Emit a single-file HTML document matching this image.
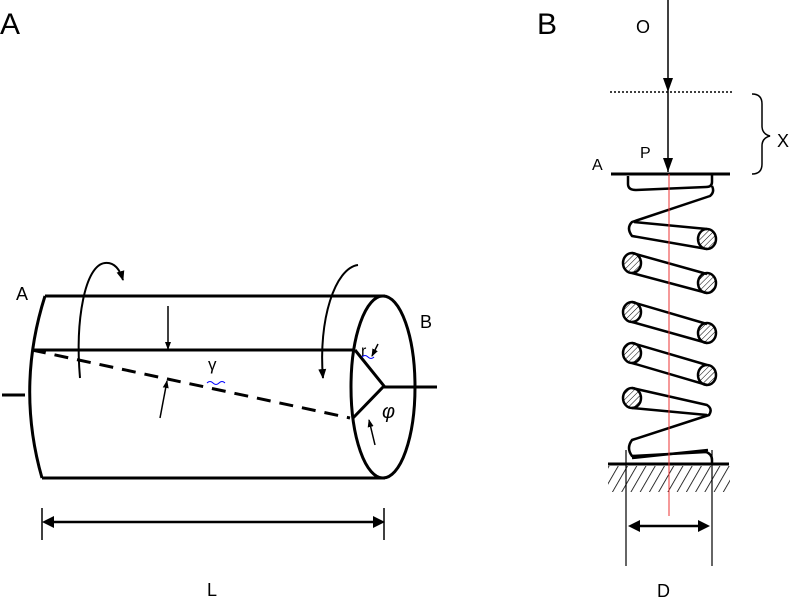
<!DOCTYPE html>
<html><head><style>body{margin:0;background:#fff}svg{display:block}text{font-family:"Liberation Sans",sans-serif}</style></head><body>
<svg width="800" height="600" viewBox="0 0 800 600" xmlns="http://www.w3.org/2000/svg">
<defs>
<marker id="ah" markerWidth="10" markerHeight="10" refX="9" refY="5" orient="auto" markerUnits="userSpaceOnUse"><path d="M0,1 L10,5 L0,9 Z" fill="#000"/></marker>
<marker id="ahs" markerWidth="8" markerHeight="8" refX="7" refY="4" orient="auto" markerUnits="userSpaceOnUse"><path d="M0,1 L8,4 L0,7 Z" fill="#000"/></marker>
<pattern id="hat" width="8" height="8" patternUnits="userSpaceOnUse" patternTransform="rotate(30)"><line x1="0" y1="0" x2="0" y2="8" stroke="#000" stroke-width="1.6"/></pattern>
<pattern id="hat2" width="4" height="4" patternUnits="userSpaceOnUse" patternTransform="rotate(45)"><line x1="0" y1="0" x2="0" y2="4" stroke="#000" stroke-width="1"/></pattern>
</defs>
<text x="0" y="34" font-size="30">A</text>
<text x="537" y="34" font-size="30">B</text>
<!-- cylinder -->
<g stroke="#000" stroke-width="3" fill="none">
<line x1="45" y1="296" x2="385" y2="296"/>
<line x1="42" y1="478" x2="385" y2="478"/>
<path d="M45,296 Q16,387 42,478"/>
<ellipse cx="383" cy="387" rx="32" ry="91"/>
<line x1="32" y1="350" x2="355" y2="350"/>
<line x1="32" y1="350" x2="350" y2="418" stroke-dasharray="14,9"/>
<polyline points="355,350 384,386 353,418"/>
<line x1="384" y1="387" x2="437" y2="387"/>
<line x1="2" y1="395" x2="25" y2="395"/>
</g>
<g stroke="#000" stroke-width="2" fill="none">
<path d="M80,378 C75,320 85,265 105,263 C115,262 120,270 123,280" marker-end="url(#ah)"/>
<path d="M358,265 C335,268 318,320 323,378" marker-end="url(#ah)"/>
<line x1="168" y1="306" x2="168" y2="349" stroke-width="1.5" marker-end="url(#ahs)"/>
<line x1="160" y1="418" x2="167" y2="381" stroke-width="1.5" marker-end="url(#ahs)"/>
<line x1="375" y1="445" x2="369" y2="420" stroke-width="1.5" marker-end="url(#ahs)"/>
<line x1="378" y1="344" x2="372" y2="356" stroke-width="1.5" marker-end="url(#ahs)"/>
<line x1="50" y1="522" x2="378" y2="522" stroke-width="2.5"/>
<line x1="42" y1="508" x2="42" y2="540" stroke-width="1.5"/>
<line x1="384" y1="508" x2="384" y2="540" stroke-width="1.5"/>
</g>
<path d="M385,522 l-12,-6 v12z M42,522 l12,-6 v12z" fill="#000"/>
<text x="16" y="300" font-size="18">A</text>
<text x="420" y="328" font-size="18">B</text>
<text x="361" y="356" font-size="16" font-family="Liberation Serif">r</text>
<text x="208" y="370" font-size="17" font-family="Liberation Serif">γ</text>
<text x="382" y="418" font-size="20" font-style="italic" font-family="Liberation Serif">φ</text>
<text x="207" y="596" font-size="18">L</text>
<path d="M207,383 q3,-3 6,0 t6,0 t6,0 M362,357 q3,-3 6,0 t6,0" stroke="#00f" fill="none"/>
<!-- panel B -->
<text x="636" y="33" font-size="18">O</text>
<text x="640" y="158" font-size="16">P</text>
<text x="592" y="170" font-size="16">A</text>
<text x="777" y="147" font-size="18">X</text>
<text x="657" y="597" font-size="18">D</text>
<g stroke="#000" fill="none">
<line x1="668" y1="0" x2="668" y2="172" stroke-width="1.5"/>
<line x1="610" y1="92" x2="732" y2="92" stroke-width="1.5" stroke-dasharray="2,2"/>
<path d="M752,94 q10,0 10,10 v22 q0,8 8,10 q-8,2 -8,10 v18 q0,10 -10,10" stroke-width="1.5"/>
<line x1="611" y1="174" x2="730" y2="174" stroke-width="3"/>
<line x1="608" y1="464" x2="729" y2="464" stroke-width="3"/>
<line x1="626" y1="450" x2="626" y2="566" stroke-width="1.2"/>
<line x1="712" y1="450" x2="712" y2="566" stroke-width="1.2"/>
<line x1="635" y1="526" x2="703" y2="526" stroke-width="2.5"/>
</g>
<path d="M668,92 l-5,-14 h10z M668,172 l-5,-14 h10z M628,526 l12,-6 v12z M710,526 l-12,-6 v12z" fill="#000"/>
<rect x="608" y="466" width="122" height="26" fill="url(#hat)"/>
<!-- spring -->
<g stroke="#000" stroke-width="2.5" fill="none" stroke-linejoin="round">
<path d="M628,176 v8 q0,6 8,6 l70,-3 q6,0 6,-5 v-8"/>
<path d="M712,186 q3,6 -2,10 L632,222 q-6,6 0,14 L707,249"/>
<path d="M634,222 L707,229"/>
<path d="M632,253 L707,274 M632,273 L707,293"/>
<path d="M632,302 L707,324 M632,322 L707,343"/>
<path d="M632,343 L707,365 M632,363 L707,385"/>
<path d="M632,388 L707,405 q6,4 2,10 L632,440 q-6,8 0,16 L706,452 q6,2 6,8 v4"/>
<path d="M632,408 L707,415"/>
<path d="M632,458 L708,450"/>
</g>
<g stroke="#000" stroke-width="2.5" fill="url(#hat2)">
<ellipse cx="707" cy="239" rx="9" ry="10"/>
<ellipse cx="707" cy="283" rx="9" ry="10"/>
<ellipse cx="707" cy="333" rx="9" ry="10"/>
<ellipse cx="707" cy="375" rx="9" ry="10"/>
<ellipse cx="632" cy="263" rx="9" ry="10"/>
<ellipse cx="632" cy="312" rx="9" ry="10"/>
<ellipse cx="632" cy="353" rx="9" ry="10"/>
<ellipse cx="632" cy="398" rx="9" ry="10"/>
</g>
<line x1="669" y1="174" x2="669" y2="516" stroke="#e33" stroke-width="1"/>
</svg>
</body></html>
